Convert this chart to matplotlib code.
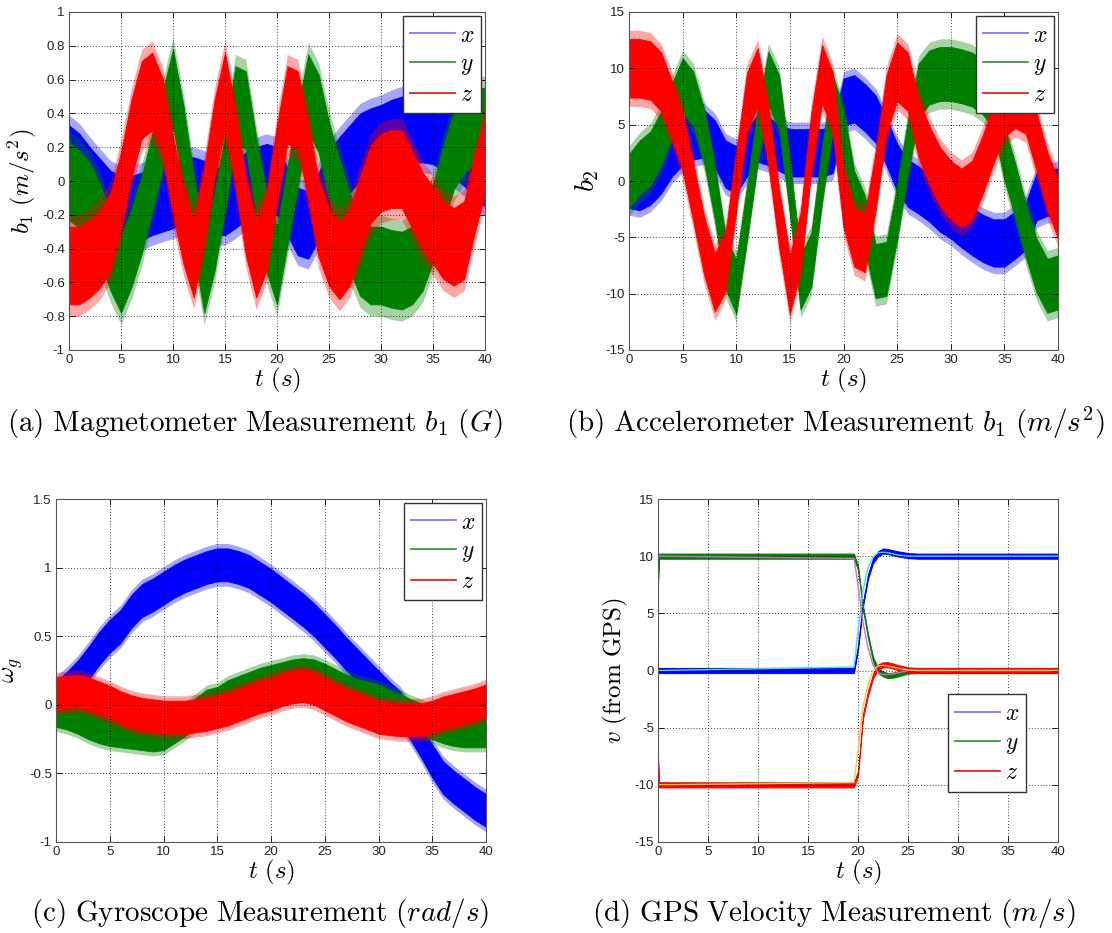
import matplotlib
matplotlib.use("Agg")
import matplotlib.pyplot as plt
from matplotlib.lines import Line2D
from matplotlib.ticker import MultipleLocator, FuncFormatter

plt.rcParams['mathtext.fontset'] = 'cm'
plt.rcParams['axes.unicode_minus'] = False

# time grid for panels a, b, c (s)
t = list(range(41))

# (a) magnetometer, centre of each noisy band
a_x = [0.13, 0.08, 0.0, -0.07, -0.14, -0.17, -0.17, -0.15, -0.12, -0.1, -0.08, -0.06, -0.06, -0.08,
       -0.12, -0.12, -0.08, -0.03, 0.0, 0.02, 0.0, -0.12, -0.24, -0.26, -0.15, -0.02, 0.06, 0.13,
       0.2, 0.23, 0.25, 0.28, 0.3, 0.31, 0.31, 0.3, 0.26, 0.22, 0.17, 0.1, 0.05]
a_y = [0.0, -0.05, -0.12, -0.25, -0.42, -0.55, -0.4, -0.2, 0.05, 0.3, 0.55, 0.22, -0.2, -0.55,
       -0.3, 0.05, 0.45, 0.42, 0.03, -0.31, -0.5, -0.15, 0.2, 0.52, 0.4, 0.12, -0.1, -0.3, -0.45,
       -0.5, -0.5, -0.52, -0.53, -0.5, -0.42, -0.25, -0.02, 0.18, 0.28, 0.32, 0.32]
a_z = [-0.5, -0.5, -0.46, -0.4, -0.3, -0.06, 0.25, 0.48, 0.53, 0.38, 0.03, -0.26, -0.46, -0.15,
       0.25, 0.53, 0.2, -0.21, -0.46, -0.3, 0.1, 0.45, 0.42, 0.12, -0.22, -0.39, -0.47, -0.39,
       -0.2, -0.02, 0.05, 0.07, 0.07, -0.05, -0.18, -0.26, -0.35, -0.39, -0.35, -0.08, 0.16]
a_noise = [0.2, 0.23, 0.23]

# (b) accelerometer
b_x = [-0.3, -0.5, 0.0, 1.0, 2.5, 3.5, 4.0, 4.2, 3.3, 1.5, 1.0, 2.5, 3.8, 3.5, 3.0, 2.5, 2.5,
       2.5, 2.5, 2.8, 7.0, 7.3, 6.5, 5.5, 3.5, 1.2, -0.2, -0.8, -1.5, -2.4, -3.0, -3.8, -4.5,
       -5.1, -5.5, -5.5, -4.8, -4.0, -1.4, -1.0, -1.0]
b_y = [0.0, 1.2, 2.0, 3.8, 6.2, 8.5, 7.3, 4.0, -1.0, -7.2, -9.4, -2.9, 4.0, 9.1, 7.0, -0.5,
       -9.0, -7.0, 0.5, 7.0, 4.0, -1.5, -3.7, -8.0, -7.8, -2.8, 3.0, 8.0, 9.2, 9.5, 9.5, 9.3,
       9.0, 8.3, 7.0, 2.5, -0.8, -4.4, -7.5, -9.3, -9.0]
b_z = [10.0, 10.0, 9.8, 8.8, 6.3, 3.5, -1.0, -5.7, -9.0, -7.2, 0.0, 7.0, 9.2, 4.0, -3.3, -9.2,
       -5.4, 3.5, 9.5, 7.0, -1.5, -5.0, -5.5, 0.0, 6.8, 9.7, 8.8, 4.7, 2.3, 0.4, -0.8, -1.5,
       -0.8, 1.5, 4.2, 6.5, 7.3, 6.8, 3.5, 0.0, -2.5]
b_noise = [2.1, 2.4, 2.6]

# (c) gyroscope
c_x = [0.05, 0.12, 0.2, 0.3, 0.41, 0.5, 0.57, 0.68, 0.76, 0.8, 0.85, 0.9, 0.94, 0.97, 1.0,
       1.02, 1.02, 1.0, 0.97, 0.92, 0.87, 0.81, 0.75, 0.69, 0.62, 0.54, 0.46, 0.37, 0.29, 0.21,
       0.13, 0.05, -0.02, -0.14, -0.27, -0.41, -0.53, -0.6, -0.66, -0.72, -0.77]
c_y = [-0.05, -0.07, -0.1, -0.14, -0.17, -0.19, -0.2, -0.21, -0.22, -0.23, -0.22, -0.17, -0.12,
       -0.06, 0.0, 0.02, 0.07, 0.1, 0.13, 0.16, 0.18, 0.2, 0.22, 0.23, 0.22, 0.19, 0.15, 0.11,
       0.08, 0.06, 0.04, 0.0, -0.03, -0.07, -0.1, -0.14, -0.17, -0.19, -0.2, -0.2, -0.2]
c_z = [0.08, 0.09, 0.1, 0.08, 0.05, 0.02, -0.02, -0.05, -0.07, -0.08, -0.09, -0.09, -0.09, -0.08,
       -0.07, -0.05, -0.03, 0.0, 0.03, 0.06, 0.08, 0.11, 0.13, 0.14, 0.12, 0.08, 0.04, 0.0,
       -0.03, -0.06, -0.09, -0.1, -0.11, -0.11, -0.11, -0.09, -0.06, -0.04, -0.02, 0.0, 0.03]
c_noise = [0.12, 0.11, 0.12]

# (d) GPS velocity (measured) and thin reference curves
d_t = [0, 0.1, 19.6, 20.0, 20.5, 21.0, 21.5, 22.0, 22.5, 23.0, 23.5, 24.0, 25.0, 26.0, 40]
d_x = [0, 0, 0, 2.0, 5.8, 8.2, 9.6, 10.2, 10.45, 10.4, 10.3, 10.2, 10.05, 10.0, 10.0]
d_y = [7.5, 10, 10, 9.0, 5.5, 3.0, 1.0, 0.0, -0.3, -0.45, -0.4, -0.3, -0.05, 0.0, 0.0]
d_z = [-7.5, -10, -10, -9.0, -4.0, -2.0, -0.5, 0.3, 0.5, 0.5, 0.4, 0.25, 0.05, 0.0, 0.0]
d_xr = [0, 0, 0.3, 3.5, 7.0, 9.0, 9.9, 10.3, 10.35, 10.3, 10.2, 10.1, 10.0, 10.0, 10.0]
d_yr = [10, 10, 9.8, 7.5, 4.2, 2.0, 0.5, -0.2, -0.35, -0.35, -0.3, -0.2, 0.0, 0.0, 0.0]
d_zr = [-10, -10, -9.8, -7.0, -3.2, -1.2, 0.0, 0.4, 0.45, 0.4, 0.3, 0.2, 0.05, 0.0, 0.0]
d_noise = [0.22, 0.22, 0.22]

colors = ['#0000ff', '#007f00', '#ff0000']
leg_colors = ['#7878ff', '#3c983c', '#e82020']
labels = ['$x$', '$y$', '$z$']

W, H = 1112, 933
fig = plt.figure(figsize=(W / 100, H / 100), dpi=100)


def make_ax(l, r, top, bot):
    return fig.add_axes([l / W, 1 - bot / H, (r - l) / W, (bot - top) / H])


def style(ax, ylim, ystep, ylabel, ysize=18):
    ax.set_xlim(0, 40)
    ax.set_ylim(*ylim)
    ax.xaxis.set_major_locator(MultipleLocator(5))
    ax.yaxis.set_major_locator(MultipleLocator(ystep))
    fmt = FuncFormatter(lambda v, p: '%g' % round(v, 6))
    ax.xaxis.set_major_formatter(fmt)
    ax.yaxis.set_major_formatter(fmt)
    ax.tick_params(direction='in', top=True, right=True, length=4, width=0.6,
                   labelsize=9.5, pad=3)
    for lab in ax.get_xticklabels() + ax.get_yticklabels():
        lab.set_family('Liberation Sans')
        lab.set_color('#222222')
    ax.grid(True, linestyle=(0, (1, 2.5)), color='k', linewidth=0.6)
    for s in ax.spines.values():
        s.set_color('#555555')
        s.set_linewidth(0.8)
    ax.set_xlabel(r'$t\ (s)$', fontsize=18, labelpad=0)
    ax.set_ylabel(ylabel, fontsize=ysize, labelpad=3)


def legend(ax, **kw):
    hs = [Line2D([], [], color=c, lw=1.3) for c in leg_colors]
    ax.legend(hs, labels, fontsize=17, handlelength=1.9, handletextpad=0.2,
              borderpad=0.3, labelspacing=0.2, fancybox=False, framealpha=1,
              edgecolor='#333333', **kw)


def bands(ax, tt, series, noise):
    for s, hw, c in zip(series, noise, colors):
        # faint outer fringe for the noise spikes, then the dense core
        ax.fill_between(tt, [v - 1.3 * hw for v in s], [v + 1.3 * hw for v in s],
                        color=c, alpha=0.35, lw=0)
        ax.fill_between(tt, [v - hw for v in s], [v + hw for v in s],
                        color=c, lw=0.6, edgecolor=c)


# (a)
ax = make_ax(69, 485, 12, 350)
bands(ax, t, [a_x, a_y, a_z], a_noise)
style(ax, (-1, 1), 0.2, r'$b_1\ (m/s^2)$')
legend(ax, loc='upper right', borderaxespad=0.15)

# (b)
ax = make_ax(629, 1058, 12, 350)
bands(ax, t, [b_x, b_y, b_z], b_noise)
style(ax, (-15, 15), 5, r'$b_2$', 20)
legend(ax, loc='upper right', borderaxespad=0.15)

# (c)
ax = make_ax(56, 486, 499, 842)
bands(ax, t, [c_x, c_y, c_z], c_noise)
style(ax, (-1, 1.5), 0.5, r'$\omega_g$')
legend(ax, loc='upper right', borderaxespad=0.15)

# (d)
ax = make_ax(658, 1058, 499, 842)
bands(ax, d_t, [d_x, d_y, d_z], d_noise)
for s, c in zip([d_xr, d_yr, d_zr], ['#40e0e0', '#e060e0', '#e0d040']):
    ax.plot(d_t, s, color=c, lw=1.0)
style(ax, (-15, 15), 5, r'$v\ \mathrm{(from\ GPS)}$')
legend(ax, loc='lower left', bbox_to_anchor=(0.725, 0.147), borderaxespad=0)

# captions
cap = 21
fig.text(255 / W, 1 - 423 / H, r'$\mathrm{(a)\ Magnetometer\ Measurement}\ b_1\ (G)$',
         ha='center', va='center', fontsize=cap)
fig.text(835 / W, 1 - 423 / H, r'$\mathrm{(b)\ Accelerometer\ Measurement}\ b_1\ (m/s^2)$',
         ha='center', va='center', fontsize=cap)
fig.text(260 / W, 1 - 913 / H, r'$\mathrm{(c)\ Gyroscope\ Measurement}\ (rad/s)$',
         ha='center', va='center', fontsize=cap)
fig.text(834 / W, 1 - 913 / H, r'$\mathrm{(d)\ GPS\ Velocity\ Measurement}\ (m/s)$',
         ha='center', va='center', fontsize=cap)

fig.savefig('out.png', dpi=100)
